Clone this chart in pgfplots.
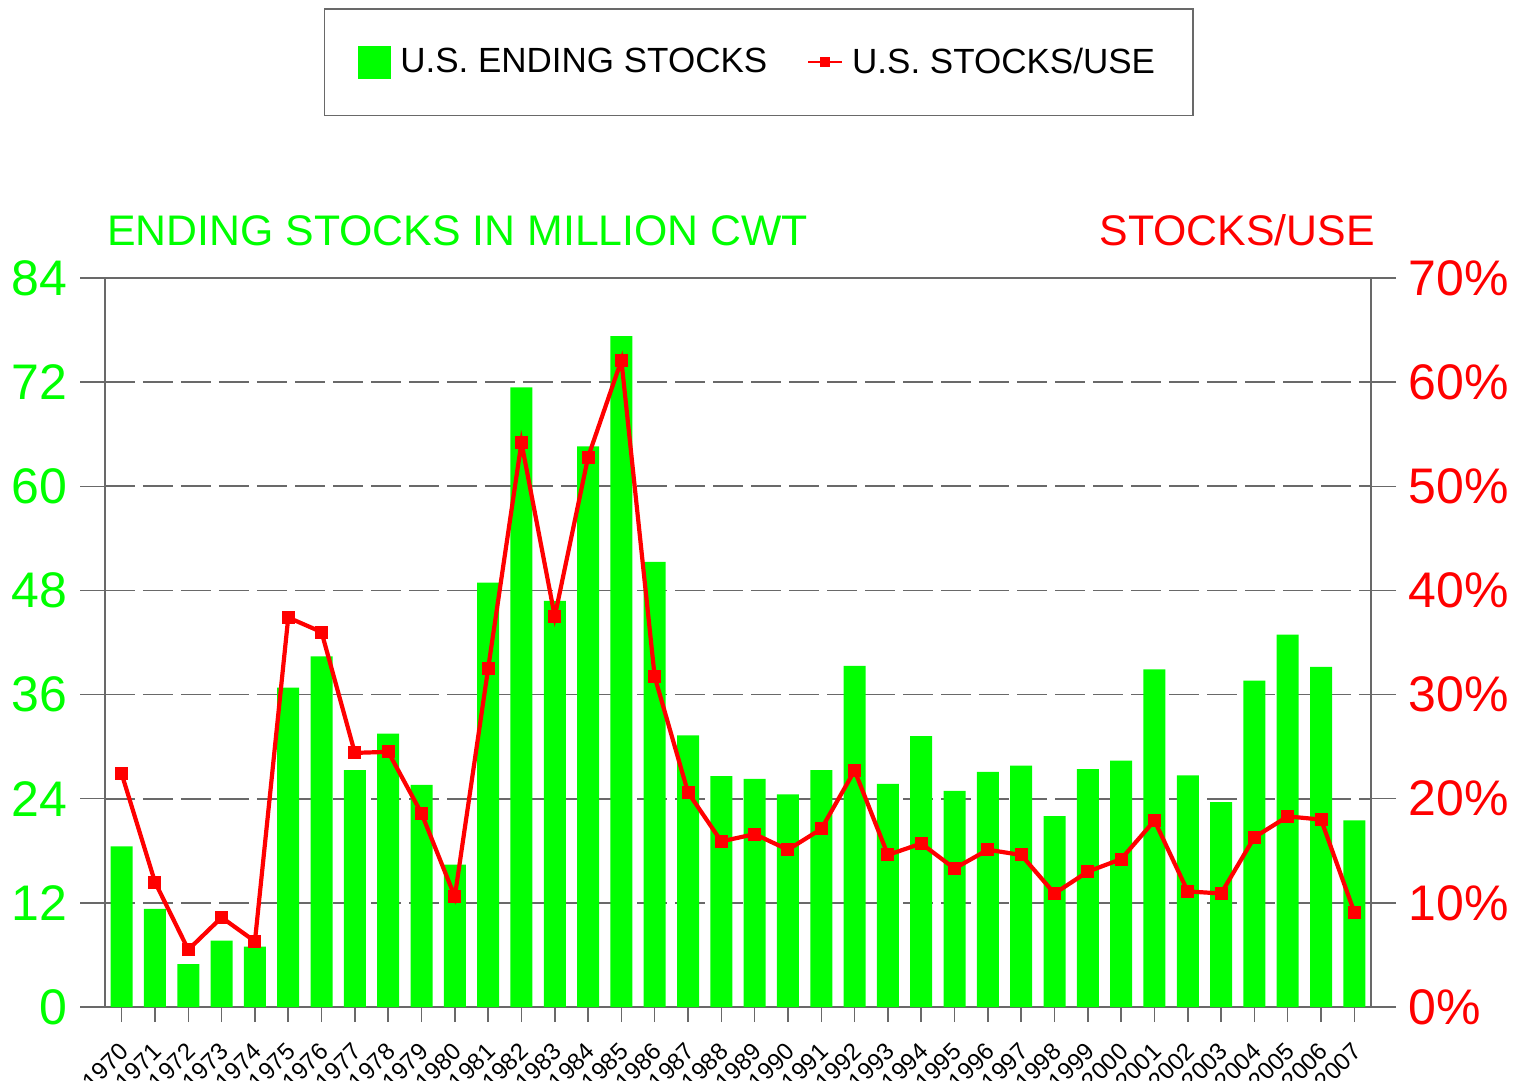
\documentclass[border=0pt]{standalone}
\usepackage{pgfplots}
\pgfplotsset{compat=1.18}
\usepackage{pgfplotstable}
\usepackage{fontspec}
\setmainfont{Liberation Sans}
\definecolor{cgreen}{RGB}{0,255,0}
\definecolor{cred}{RGB}{255,0,0}
\definecolor{cax}{RGB}{105,105,105}
\definecolor{cgrid}{RGB}{105,105,105}
\pgfplotsset{
  lineleg/.style={legend image code/.code={\draw[mark repeat=2,mark phase=2,##1, line width=1bp, mark size=2bp] plot coordinates {(0bp,0bp) (8.5bp,0bp) (17bp,0bp)};}},
  barleg/.style={legend image code/.code={\fill[cgreen] (-2bp,-8bp) rectangle (14bp,8bp);}},
}

\pgfplotstableread{
year stocks
1970 18.5
1971 11.3
1972 4.95
1973 7.65
1974 6.95
1975 36.8
1976 40.4
1977 27.3
1978 31.5
1979 25.6
1980 16.4
1981 48.9
1982 71.4
1983 46.8
1984 64.6
1985 77.3
1986 51.3
1987 31.3
1988 26.6
1989 26.3
1990 24.5
1991 27.3
1992 39.3
1993 25.7
1994 31.2
1995 24.9
1996 27.1
1997 27.8
1998 22.0
1999 27.4
2000 28.4
2001 38.9
2002 26.7
2003 23.6
2004 37.6
2005 42.9
2006 39.2
2007 21.5
}\stockstable

\pgfplotstableread{
year ratio
1970 22.4
1971 12.0
1972 5.5
1973 8.6
1974 6.3
1975 37.4
1976 36.0
1977 24.4
1978 24.5
1979 18.6
1980 10.6
1981 32.5
1982 54.2
1983 37.5
1984 52.8
1985 62.1
1986 31.7
1987 20.6
1988 15.9
1989 16.6
1990 15.1
1991 17.1
1992 22.7
1993 14.6
1994 15.7
1995 13.3
1996 15.1
1997 14.6
1998 10.9
1999 13.0
2000 14.2
2001 17.9
2002 11.1
2003 10.9
2004 16.3
2005 18.3
2006 18.0
2007 9.1
}\ratiotable

\begin{document}
\begin{tikzpicture}
\useasboundingbox (-52.5bp,-37bp) rectangle (706bp,503.5bp);
\begin{axis}[
  scale only axis, width=633bp, height=364.5bp,
  clip=false,
  xmin=1969.5, xmax=2007.5, ymin=0, ymax=84,
  ytick={0,12,...,84},
  xtick={1970,1971,...,2007},
  xtick pos=bottom, ytick pos=left,
  tick align=outside,
  major tick length=12.5bp,
  xtick style={/pgfplots/major tick length=7.5bp},
  tick style={cax, line width=0.75bp},
  axis line style={cax, line width=0.75bp},
  ymajorgrids,
  grid style={cgrid, line width=0.9bp, dash pattern=on 15bp off 4bp},
  /pgf/number format/assume math mode=true,
  /pgf/number format/1000 sep={},
  yticklabel style={text=cgreen, font=\fontsize{25bp}{30bp}\selectfont, inner sep=6bp},
  xticklabel={\fontsize{12bp}{14bp}\selectfont\pgfmathprintnumber{\tick}},
  xticklabel style={inner sep=0pt, xshift=4.3bp, yshift=-10.5bp, rotate=45, anchor=base east},
  ybar, bar width=11bp,
]
\addplot[fill=cgreen, draw=none] table[x=year, y=stocks] {\stockstable};
\node[anchor=base west, inner sep=0pt, text=cgreen, font=\fontsize{21.4bp}{25bp}\selectfont, xshift=1bp, yshift=16.5bp] at (rel axis cs:0,1) {ENDING STOCKS IN MILLION CWT};
\node[anchor=base east, inner sep=0pt, text=cred, font=\fontsize{21.4bp}{25bp}\selectfont, xshift=2bp, yshift=16.5bp] at (rel axis cs:1,1) {STOCKS/USE};
\end{axis}
\begin{axis}[
  scale only axis, width=633bp, height=364.5bp,
  clip=false,
  xmin=1969.5, xmax=2007.5, ymin=0, ymax=70,
  axis y line*=right, axis x line=none,
  ytick={0,10,...,70},
  yticklabel={\pgfmathprintnumber{\tick}\%},
  tick align=outside,
  major tick length=12.5bp,
  tick style={cax, line width=0.75bp},
  axis line style={cax, line width=0.75bp},
  /pgf/number format/assume math mode=true,
  yticklabel style={text=cred, font=\fontsize{25bp}{30bp}\selectfont, inner sep=6bp},
  legend columns=-1,
  legend style={at={(0.5162,1)}, anchor=south, yshift=81bp,
    draw=cax, line width=0.6bp,
    font=\fontsize{17.5bp}{21bp}\selectfont,
    inner xsep=17bp, inner ysep=17.5bp,
    /tikz/every odd column/.append style={column sep=2.5bp},
    /tikz/every even column/.append style={column sep=18bp}},
]
\addlegendimage{barleg}
\addlegendentry{U.S. ENDING STOCKS}
\addplot[cred, line width=2.1bp, mark=square*, mark size=2.2bp, lineleg]
  table[x=year, y=ratio] {\ratiotable};
\addlegendentry{U.S. STOCKS/USE}
\end{axis}
\end{tikzpicture}
\end{document}
